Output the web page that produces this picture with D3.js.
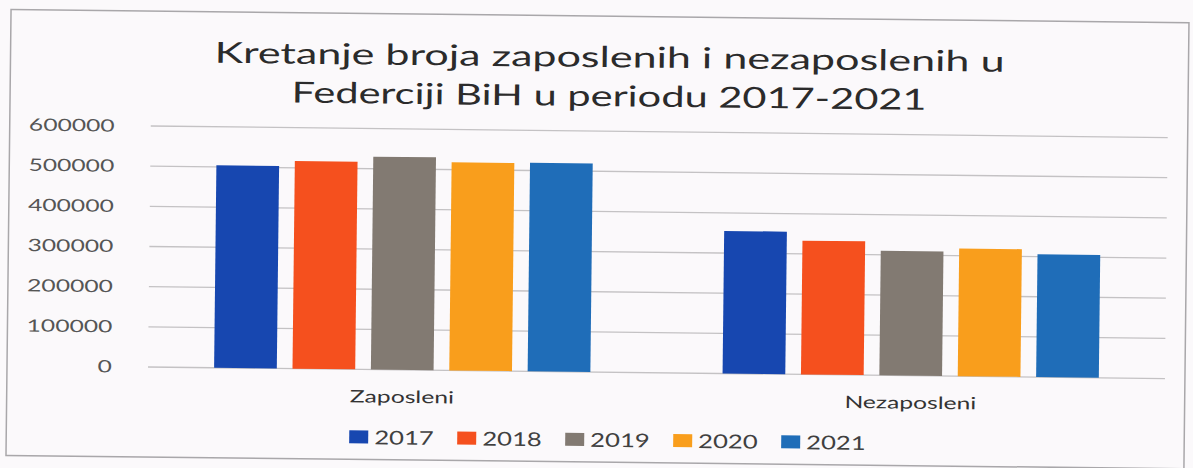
<!DOCTYPE html>
<html lang="bs">
<head>
<meta charset="utf-8">
<title>Kretanje broja zaposlenih i nezaposlenih</title>
<style>
html,body{margin:0;padding:0;background:#fbf9fb;overflow:hidden;}
svg{display:block;font-family:Lato,"Open Sans",sans-serif;}
.grid line{stroke:#c4c2c4;stroke-width:1.3px;}
.ylab{fill:#555;font-size:17px;}
.xlab{fill:#333;font-size:17px;}
.leg text{fill:#404040;font-size:19px;}
</style>
</head>
<body>
<div id="chart"></div>
<script src="https://cdn.jsdelivr.net/npm/d3@7"></script>
<script>
/* ---------- podaci ---------- */
const categories = ['Zaposleni', 'Nezaposleni'];
const years = ['2017', '2018', '2019', '2020', '2021'];
const zaposleni   = [504000, 517000, 530000, 518000, 519000];
const nezaposleni = [355000, 333000, 310000, 318000, 306000];
const yTicks = [0, 100000, 200000, 300000, 400000, 500000, 600000];
const colors = ['#1747b0', '#f5501e', '#827a72', '#f99e1c', '#1f6db8'];
const titleLines = ['Kretanje broja zaposlenih i nezaposlenih u', 'Federciji BiH u periodu 2017-2021'];

const values = {Zaposleni: zaposleni, Nezaposleni: nezaposleni};

// slika je fotografisana pa je tekst razvučen po širini
function stretch(sel, k) {
  sel.each(function () {
    const w = this.getComputedTextLength() * k;
    d3.select(this).attr('textLength', w).attr('lengthAdjust', 'spacingAndGlyphs');
  });
}

/* ---------- platno ---------- */
const W = 1193, H = 468;
const m = {left:148, right:28, top:126, bottom:101};
const svg = d3.select('#chart').append('svg').attr('width', W).attr('height', H);
const root = svg.append('g').attr('transform', 'rotate(0.65,148,367)');

root.append('rect')
  .attr('x', 7).attr('y', 11).attr('width', 1178).attr('height', 446)
  .attr('fill', 'none').attr('stroke', '#a9a7aa').attr('stroke-width', 1.5);

root.append('g').selectAll('text').data(titleLines).join('text')
  .attr('x', 606).attr('y', (d, i) => 62 + i * 39)
  .attr('text-anchor', 'middle')
  .attr('fill', '#2b2b2b').attr('font-size', 29)
  .text(d => d)
  .each(function (d, i) {
    d3.select(this).attr('textLength', i ? 635 : 790).attr('lengthAdjust', 'spacingAndGlyphs');
  });

/* ---------- skale ---------- */
const y = d3.scaleLinear().domain([0, 600000]).range([H - m.bottom, m.top]);
const x0 = d3.scaleBand().domain(categories)
  .range([m.left, W - m.right]).paddingInner(0.26).paddingOuter(0.13);
const x1 = d3.scaleBand().domain(years)
  .range([0, x0.bandwidth()]).paddingInner(0.2);

/* ---------- mreža i os ---------- */
root.append('g').attr('class', 'grid')
  .selectAll('line').data(yTicks).join('line')
  .attr('x1', m.left).attr('x2', W - m.right)
  .attr('y1', d => y(d)).attr('y2', d => y(d));

root.append('g')
  .selectAll('text').data(yTicks).join('text')
  .attr('class', 'ylab')
  .attr('x', 112).attr('y', d => y(d)).attr('dy', '0.35em')
  .attr('text-anchor', 'end')
  .text(d => d)
  .call(stretch, 1.45);

/* ---------- stupci ---------- */
const grp = root.append('g').selectAll('g').data(categories).join('g')
  .attr('transform', d => `translate(${x0(d)},0)`);

grp.selectAll('rect')
  .data(c => years.map((yr, i) => ({yr, i, v: values[c][i]})))
  .join('rect')
  .attr('x', d => x1(d.yr))
  .attr('width', x1.bandwidth())
  .attr('y', d => y(d.v))
  .attr('height', d => y(0) - y(d.v))
  .attr('fill', d => colors[d.i]);

root.append('g')
  .selectAll('text').data(categories).join('text')
  .attr('class', 'xlab')
  .attr('x', d => x0(d) + x0.bandwidth() / 2)
  .attr('y', y(0) + 33)
  .attr('text-anchor', 'middle')
  .text(d => d)
  .call(stretch, 1.45);

/* ---------- legenda ---------- */
const leg = root.append('g').attr('class', 'leg')
  .selectAll('g').data(years).join('g')
  .attr('transform', (d, i) => `translate(${350 + i * 108},428)`);
leg.append('rect').attr('width', 19).attr('height', 13).attr('y', 0)
  .attr('fill', (d, i) => colors[i]);
leg.append('text').attr('x', 25).attr('y', 7).attr('dy', '0.35em')
  .text(d => d)
  .call(stretch, 1.35);
</script>
</body>
</html>
